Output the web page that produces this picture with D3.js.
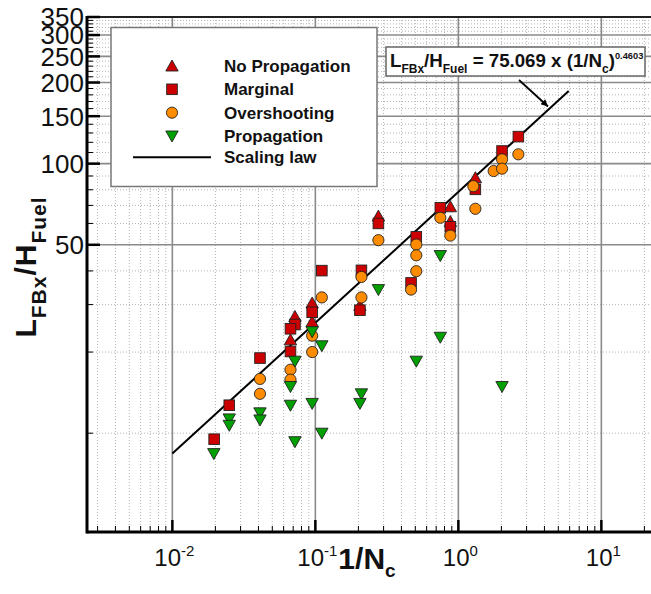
<!DOCTYPE html>
<html><head><meta charset="utf-8">
<script src="https://cdn.jsdelivr.net/npm/d3@7"></script>
<style>body{margin:0;background:#fff}svg{display:block}text{font-family:"Liberation Sans",Arial,Helvetica,sans-serif}</style>
</head><body><svg id="c" width="651" height="594"></svg>
<script>
// ---------- data ----------
const noPropX = [0.072,0.067,0.095,0.095,0.205,0.276,0.879,0.879,1.315];
const noPropY = [27.1,22.2,30.4,25.9,29.8,63.9,69.2,61.0,88.7];
const marginalX = [0.0196,0.025,0.041,0.072,0.067,0.067,0.095,0.111,0.21,0.205,0.276,0.508,0.467,0.748,0.879,1.315,2.021,2.628];
const marginalY = [9.5,12.7,19.0,25.3,24.4,20.1,28.1,40.1,40.2,28.6,60.0,53.5,36.1,68.6,58.3,80.3,111.4,126.0];
const overX = [0.041,0.041,0.067,0.067,0.095,0.095,0.111,0.21,0.21,0.276,0.508,0.508,0.508,0.467,0.748,0.879,1.273,1.315,1.766,2.021,2.021,2.628];
const overY = [15.9,14.0,17.2,15.8,23.0,20.0,31.9,38.0,31.9,52.0,50.1,45.7,39.9,34.1,63.0,54.1,82.5,68.0,93.9,103.8,95.8,108.3];
const propX = [0.0195,0.025,0.025,0.041,0.041,0.072,0.067,0.067,0.072,0.095,0.111,0.095,0.111,0.21,0.205,0.276,0.508,0.748,0.748,2.021];
const propY = [8.4,11.3,10.7,11.9,11.2,18.5,14.9,12.7,9.3,23.8,21.1,12.9,10.0,14.0,12.9,34.1,18.5,45.6,22.7,14.9];
const lawX = [0.01, 5.91];
const lawY = [8.4, 186];
const xMajor = [0.01, 0.1, 1, 10];
const xExp = ["-2","-1","0","1"];
const yLabels = [50,100,150,200,250,300,350];
const legendNames = ["No Propagation","Marginal","Overshooting","Propagation","Scaling law"];

// ---------- setup ----------
const svg = d3.select("#c");
const L = 87, B = 532, T = 17;
const x = d3.scaleLog().domain([0.00253, 24]).range([L, L + 143*Math.log10(24/0.00253)]);
const y = d3.scaleLog().domain([4.3, 350]).range([B, T]);
const W = 651;

const xMinor = [];
for (let k=-3;k<=1;k++) for (let m=2;m<=9;m++){const v=m*Math.pow(10,k); if(v>=0.00253 && v<=24) xMinor.push(v);}
const yMinor = [];
for (let v=10; v<=340; v+=10) if(!yLabels.includes(v)) yMinor.push(v);

const grid = svg.append("g");
grid.selectAll(".xm").data(xMinor).enter().append("line")
  .attr("x1",d=>x(d)).attr("x2",d=>x(d)).attr("y1",T).attr("y2",B)
  .attr("stroke","#b5b5b5").attr("stroke-width",1).attr("stroke-dasharray","1,2");
grid.selectAll(".ym").data(yMinor).enter().append("line")
  .attr("x1",L).attr("x2",W).attr("y1",d=>y(d)).attr("y2",d=>y(d))
  .attr("stroke","#b5b5b5").attr("stroke-width",1).attr("stroke-dasharray","1,2");
grid.selectAll(".xM").data(xMajor).enter().append("line")
  .attr("x1",d=>x(d)).attr("x2",d=>x(d)).attr("y1",T).attr("y2",B)
  .attr("stroke","#8a8a8a").attr("stroke-width",1.6);
grid.selectAll(".yM").data(yLabels).enter().append("line")
  .attr("x1",L).attr("x2",W).attr("y1",d=>y(d)).attr("y2",d=>y(d))
  .attr("stroke","#8a8a8a").attr("stroke-width",1.6);

svg.append("line").attr("x1",L).attr("x2",W).attr("y1",T).attr("y2",T).attr("stroke","#222").attr("stroke-width",2);
svg.append("line").attr("x1",L).attr("x2",W).attr("y1",B).attr("y2",B).attr("stroke","#000").attr("stroke-width",3);
svg.append("line").attr("x1",L).attr("x2",L).attr("y1",T-1).attr("y2",B+1.5).attr("stroke","#000").attr("stroke-width",3);

svg.selectAll(".xt").data(xMajor).enter().append("line")
  .attr("x1",d=>x(d)).attr("x2",d=>x(d)).attr("y1",B).attr("y2",B-12).attr("stroke","#000").attr("stroke-width",2.5);
svg.selectAll(".xmt").data(xMinor).enter().append("line")
  .attr("x1",d=>x(d)).attr("x2",d=>x(d)).attr("y1",B).attr("y2",B-6).attr("stroke","#000").attr("stroke-width",1);
svg.selectAll(".yt").data(yLabels).enter().append("line")
  .attr("x1",L).attr("x2",L+13).attr("y1",d=>y(d)).attr("y2",d=>y(d)).attr("stroke","#000").attr("stroke-width",2.5);
svg.selectAll(".ymt").data(yMinor).enter().append("line")
  .attr("x1",L).attr("x2",L+6).attr("y1",d=>y(d)).attr("y2",d=>y(d)).attr("stroke","#000").attr("stroke-width",1);

svg.selectAll(".yl").data(yLabels).enter().append("text")
  .attr("x",84).attr("y",d=>y(d)).attr("dy","0.36em").attr("text-anchor","end")
  .attr("font-size",26).attr("fill","#111").text(d=>d);
const xl = svg.selectAll(".xl").data(xMajor).enter().append("text")
  .attr("x",d=>x(d)+2).attr("y",566).attr("text-anchor","middle").attr("font-size",24).attr("fill","#111");
xl.append("tspan").text("10");
xl.append("tspan").attr("dy",-10).attr("font-size",15).text((d,i)=>xExp[i]);

// axis titles
const yt = svg.append("text").attr("transform","translate(36,267) rotate(-90)")
  .attr("text-anchor","middle").attr("font-size",30).attr("font-weight","bold")
  .attr("letter-spacing",1).attr("fill","#111");
yt.append("tspan").text("L");
yt.append("tspan").attr("font-size",21).attr("dy",10).text("FBx");
yt.append("tspan").attr("dy",-10).text("/H");
yt.append("tspan").attr("font-size",21).attr("dy",10).text("Fuel");
const xt = svg.append("text").attr("x",367).attr("y",569).attr("text-anchor","middle")
  .attr("font-size",30).attr("font-weight","bold").attr("fill","#111");
xt.append("tspan").text("1/N");
xt.append("tspan").attr("font-size",19).attr("dy",8).text("c");

// scaling law line
const line = d3.line().x(d=>x(d[0])).y(d=>y(d[1]));
svg.append("path").datum(lawX.map((v,i)=>[v,lawY[i]])).attr("d",line)
  .attr("fill","none").attr("stroke","#000").attr("stroke-width",2);

// markers
const colors = {red:"#cc0000", orange:"#ff8c00", green:"#00a000"};
const triUp = "M0,-6L6.2,5L-6.2,5Z";
const triDown = "M0,6L6.2,-5L-6.2,-5Z";
function pts(xs, ys){return xs.map((v,i)=>[v,ys[i]]);}
const gp = svg.append("g");
gp.selectAll(".np").data(pts(noPropX,noPropY)).enter().append("path")
  .attr("d",triUp).attr("transform",d=>`translate(${x(d[0])},${y(d[1])})`)
  .attr("fill",colors.red).attr("stroke","#222").attr("stroke-width",0.9);
gp.selectAll(".mg").data(pts(marginalX,marginalY)).enter().append("rect")
  .attr("x",d=>x(d[0])-5.3).attr("y",d=>y(d[1])-5.3).attr("width",10.6).attr("height",10.6)
  .attr("fill",colors.red).attr("stroke","#222").attr("stroke-width",0.9);
gp.selectAll(".ov").data(pts(overX,overY)).enter().append("circle")
  .attr("cx",d=>x(d[0])).attr("cy",d=>y(d[1])).attr("r",5.6)
  .attr("fill",colors.orange).attr("stroke","#222").attr("stroke-width",0.9);
gp.selectAll(".pr").data(pts(propX,propY)).enter().append("path")
  .attr("d",triDown).attr("transform",d=>`translate(${x(d[0])},${y(d[1])})`)
  .attr("fill",colors.green).attr("stroke","#222").attr("stroke-width",0.9);

// legend
const lg = svg.append("g");
lg.append("rect").attr("x",111).attr("y",27.5).attr("width",266).attr("height",159)
  .attr("fill","#fff").attr("stroke","#777").attr("stroke-width",1.5);
const rows = [66,89.3,112.7,136,157.3];
lg.append("path").attr("d",triUp).attr("transform",`translate(172,${rows[0]})`).attr("fill",colors.red).attr("stroke","#222").attr("stroke-width",0.9);
lg.append("rect").attr("x",172-5.3).attr("y",rows[1]-5.3).attr("width",10.6).attr("height",10.6).attr("fill",colors.red).attr("stroke","#222").attr("stroke-width",0.9);
lg.append("circle").attr("cx",172).attr("cy",rows[2]).attr("r",5.6).attr("fill",colors.orange).attr("stroke","#222").attr("stroke-width",0.9);
lg.append("path").attr("d",triDown).attr("transform",`translate(172,${rows[3]})`).attr("fill",colors.green).attr("stroke","#222").attr("stroke-width",0.9);
lg.append("line").attr("x1",133).attr("x2",211).attr("y1",rows[4]).attr("y2",rows[4]).attr("stroke","#000").attr("stroke-width",2);
lg.selectAll(".lt").data(legendNames).enter().append("text")
  .attr("x",224).attr("y",(d,i)=>rows[i]).attr("dy","0.36em")
  .attr("font-size",17).attr("font-weight","bold").attr("fill","#111").text(d=>d);

// annotation
const an = svg.append("g");
an.append("rect").attr("x",386).attr("y",47).attr("width",259).attr("height",29)
  .attr("fill","#fff").attr("stroke","#666").attr("stroke-width",1.5);
const at = an.append("text").attr("x",390).attr("y",66.5).attr("font-size",18.7).attr("font-weight","bold").attr("fill","#111");
at.append("tspan").text("L");
at.append("tspan").attr("font-size",12).attr("dy",6).text("FBx");
at.append("tspan").attr("dy",-6).text("/H");
at.append("tspan").attr("font-size",12).attr("dy",6).text("Fuel");
at.append("tspan").attr("dy",-6).text(" = 75.069 x (1/N");
at.append("tspan").attr("font-size",12).attr("dy",6).text("c");
at.append("tspan").attr("dy",-6).text(")");
at.append("tspan").attr("font-size",9.3).attr("dy",-8).text("0.4603");
svg.append("defs").append("marker").attr("id","ah").attr("viewBox","0 0 10 10")
  .attr("refX",10).attr("refY",5).attr("markerWidth",9).attr("markerHeight",7).attr("orient","auto")
  .attr("markerUnits","userSpaceOnUse")
  .append("path").attr("d","M0,0L10,5L0,10Z").attr("fill","#000");
an.append("line").attr("x1",519).attr("y1",80).attr("x2",548).attr("y2",106.5)
  .attr("stroke","#000").attr("stroke-width",1.8).attr("marker-end","url(#ah)");
</script></body></html>
